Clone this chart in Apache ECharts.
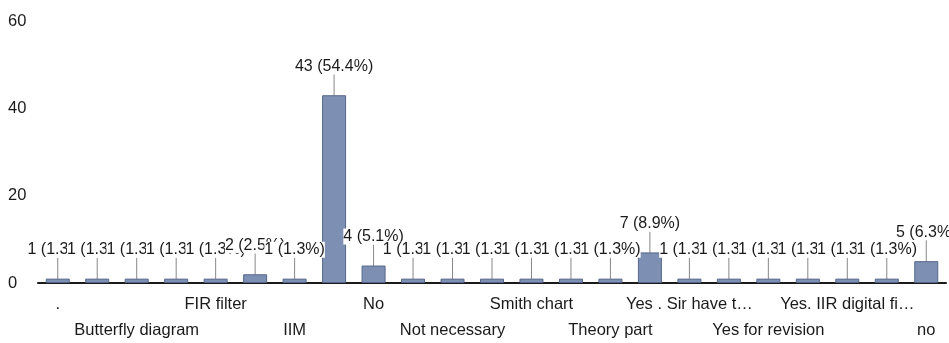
<!DOCTYPE html>
<html>
<head>
<meta charset="utf-8">
<script src="https://cdn.jsdelivr.net/npm/echarts@6/dist/echarts.min.js"></script>
<style>
  html, body { margin: 0; padding: 0; background: #fff; }
  #chart { width: 949px; height: 343px; }
</style>
</head>
<body>
<div id="chart"></div>
<script>
var categories = [
    '.', 'All topics', 'Butterfly diagram', 'DFT', 'FIR filter', 'Filters', 'IIM',
    'NO', 'No', 'No sir', 'Not necessary', 'Nothing', 'Smith chart', 'Some topics',
    'Theory part', 'Yes', 'Yes . Sir have t…', 'Yes but', 'Yes for revision',
    'Yes sir', 'Yes. IIR digital fi…', 'Yes. Z transform', 'no'
];
var counts = [1, 1, 1, 1, 1, 2, 1, 43, 4, 1, 1, 1, 1, 1, 1, 7, 1, 1, 1, 1, 1, 1, 5];
var yTicks = [0, 20, 40, 60];

var total = counts.reduce(function (a, b) { return a + b; }, 0);

var option = {
    backgroundColor: '#fff',
    animation: false,
    textStyle: { fontFamily: 'Liberation Sans, Arial, sans-serif' },
    grid: { left: 38, right: 3, top: 21, bottom: 58 },
    xAxis: {
        type: 'category',
        data: categories,
        axisLine: { lineStyle: { color: '#1a1a1a', width: 2 } },
        axisTick: { show: false },
        axisLabel: {
            interval: 1,
            margin: 8,
            fontSize: 16.5,
            lineHeight: 26,
            color: '#1a1a1a',
            formatter: function (v, i) {
                return i % 4 === 2 ? '\n' + v : v;
            }
        }
    },
    yAxis: {
        type: 'value',
        min: yTicks[0],
        max: yTicks[yTicks.length - 1],
        interval: 20,
        axisLine: { show: false },
        axisTick: { show: false },
        splitLine: { show: false },
        axisLabel: {
            align: 'left',
            margin: 30,
            fontSize: 16.5,
            color: '#1a1a1a'
        }
    },
    series: [{
        type: 'bar',
        data: counts,
        barWidth: 24,
        itemStyle: {
            color: '#7d90b4',
            borderColor: '#56668a',
            borderWidth: 1
        },
        label: {
            show: true,
            position: 'top',
            distance: 4,
            fontSize: 16,
            color: '#1a1a1a',
            backgroundColor: '#fff',
            formatter: function (p) {
                return p.value + ' (' + (p.value / total * 100).toFixed(1) + '%)';
            }
        },
        labelLayout: { dy: -17 },
        labelLine: {
            show: true,
            lineStyle: { color: '#888', width: 1 }
        }
    }]
};

var chart = echarts.init(document.getElementById('chart'));
chart.setOption(option);
</script>
</body>
</html>
